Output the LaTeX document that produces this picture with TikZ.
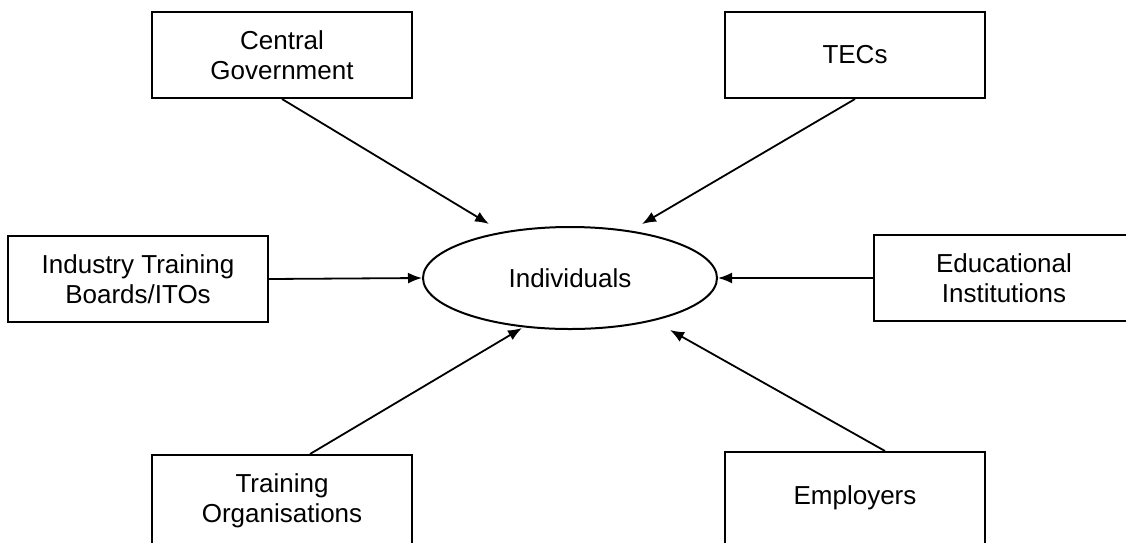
\documentclass[tikz,border=0pt]{standalone}
\usepackage{fontspec}
\setmainfont{Liberation Sans}
\usetikzlibrary{calc,arrows.meta,shapes.geometric}
\begin{document}
\begin{tikzpicture}[x=1pt,y=-1pt,
  box/.style={draw,line width=2pt,rectangle,minimum width=260pt,minimum height=86pt,align=center,inner sep=0pt,font=\fontsize{26}{30}\selectfont},
  ell/.style={draw,line width=2pt,ellipse,minimum width=294pt,minimum height=102pt,inner sep=0pt,font=\fontsize{26}{30}\selectfont},
  arr/.style={line width=1.8pt,-{Latex[length=14pt,width=11pt]}}]
\useasboundingbox (0,0) rectangle (1126,542);
\clip (0,0) rectangle (1126,542);
\node[box] (cg) at (282,55) {Central\\Government};
\node[box] (tec) at (855,55) {TECs};
\node[box] (ind) at (138,279) {Industry Training\\Boards/ITOs};
\node[box] (edu) at (1004,278) {Educational\\Institutions};
\node[box,minimum height=92pt] (tro) at (282,501) {Training\\Organisations};
\node[box,minimum height=92pt] (emp) at (855,498) {Employers};
\node[ell] (ind2) at (570,278) {Individuals};
\coordinate (t1) at (489,224);
\coordinate (t2) at (642,224);
\coordinate (t3) at (522,328);
\coordinate (t4) at (670,330);
\draw[arr] (cg.south) -- (t1);
\draw[arr] (tec.south) -- (t2);
\draw[arr] (ind.east) -- (ind2.west);
\draw[arr] (edu.west) -- (ind2.east);
\draw[arr] ($(tro.north)+(28,0)$) -- (t3);
\draw[arr] ($(emp.north)+(30,0)$) -- (t4);
\end{tikzpicture}
\end{document}
